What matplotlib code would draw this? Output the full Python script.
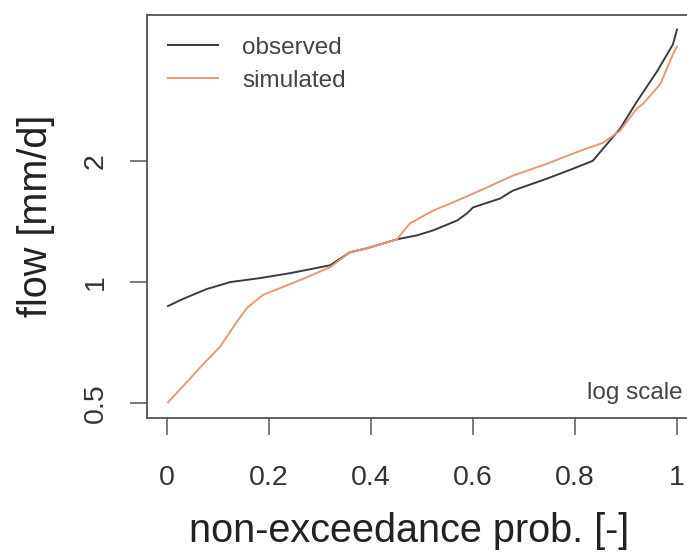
import matplotlib
matplotlib.use("Agg")
import matplotlib.pyplot as plt

plt.rcParams['font.family'] = ['Liberation Sans', 'DejaVu Sans']

# flow duration curves
obs_p = [0.002, 0.031, 0.078, 0.124, 0.182, 0.241, 0.320, 0.359, 0.392, 0.451,
         0.490, 0.522, 0.569, 0.588, 0.600, 0.653, 0.678, 0.745, 0.796, 0.835,
         0.863, 0.888, 0.922, 0.961, 0.992, 1.0]
obs_q = [0.872, 0.908, 0.961, 1.000, 1.023, 1.052, 1.101, 1.186, 1.213, 1.277,
         1.306, 1.344, 1.422, 1.480, 1.532, 1.612, 1.686, 1.806, 1.911, 2.000,
         2.203, 2.399, 2.813, 3.335, 3.888, 4.234]

sim_p = [0.002, 0.031, 0.065, 0.104, 0.137, 0.157, 0.188, 0.227, 0.275, 0.320,
         0.359, 0.392, 0.451, 0.476, 0.522, 0.569, 0.627, 0.678, 0.745, 0.810,
         0.855, 0.888, 0.922, 0.933, 0.967, 0.992, 1.0]
sim_q = [0.503, 0.551, 0.614, 0.691, 0.797, 0.863, 0.929, 0.972, 1.029, 1.089,
         1.186, 1.213, 1.277, 1.398, 1.505, 1.593, 1.716, 1.837, 1.966, 2.117,
         2.216, 2.372, 2.703, 2.765, 3.097, 3.673, 3.845]

xticks = [0, 0.2, 0.4, 0.6, 0.8, 1]
xlabels = ["0", "0.2", "0.4", "0.6", "0.8", "1"]
yticks = [0.5, 1, 2]
ylabels = ["0.5", "1", "2"]

fig = plt.figure(figsize=(6.87, 5.52), dpi=100)
ax = fig.add_axes([146.6 / 687, 134 / 552, 550.8 / 687, 403 / 552])

ax.plot(obs_p, obs_q, color="#3c3c3c", lw=1.4, label="observed")
ax.plot(sim_p, sim_q, color="#e8967a", lw=1.4, label="simulated")

ax.set_yscale("log")
ax.set_xlim(-0.04, 1.04)
ax.set_ylim(0.46, 4.6)
ax.set_xticks(xticks)
ax.set_xticklabels(xlabels)
ax.set_yticks(yticks)
ax.set_yticklabels(ylabels, rotation=90, va="center")
ax.minorticks_off()

for s in ax.spines.values():
    s.set_color("#555555")
    s.set_linewidth(1.3)
ax.spines["right"].set_visible(False)

ax.tick_params(axis="both", direction="out", length=12.5, width=1.1,
               color="#555555", labelsize=20.5, labelcolor="#333333")
ax.tick_params(axis="x", pad=21)
ax.tick_params(axis="y", pad=15)

ax.text(0.8235, 0.531, "log scale", fontsize=17.5, color="#444444",
        ha="left", va="center")

leg = ax.legend(loc="upper left", bbox_to_anchor=(0.039, 0.946), frameon=False,
                fontsize=17.5, handlelength=2.06, handletextpad=1.0,
                labelspacing=0.45, borderpad=0, borderaxespad=0)
for t in leg.get_texts():
    t.set_color("#444444")

fig.text(409 / 687, 10 / 552, "non-exceedance prob. [-]", fontsize=28.5,
         color="#222222", ha="center", va="baseline")
fig.text(36 / 687, 1 - 216 / 552, "flow [mm/d]", fontsize=28.5,
         color="#222222", rotation=90, ha="center", va="center")

fig.savefig("out.png", dpi=100)
